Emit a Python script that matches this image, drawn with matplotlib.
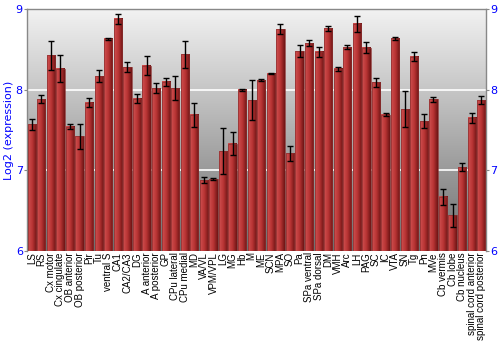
import numpy as np
import matplotlib.pyplot as plt
from matplotlib.colors import LinearSegmentedColormap

regiones = ["LS", "RS", "Cx motor", "Cx cingulate", "OB anterior", "OB posterior", "Pir", "Tu",
            "ventral S", "CA1", "CA2/CA3", "DG", "A anterior", "A posterior", "GP", "CPu lateral",
            "CPu medial", "MD", "VA/VL", "VPM/VPL", "LG", "MG", "Hb", "M", "ME", "SCN", "MPA", "SO",
            "Pa", "SPa ventral", "SPa dorsal", "DM", "VMH", "Arc", "LH", "PAG", "SC", "IC", "VTA",
            "SN", "Tg", "Pn", "MVe", "Cb vermis", "Cb lobe", "Cb nucleus", "spinal cord anterior",
            "spinal cord posterior"]
valores = [7.57, 7.88, 8.43, 8.26, 7.54, 7.42, 7.84, 8.17,
           8.63, 8.88, 8.28, 7.89, 8.30, 8.02, 8.10, 8.02,
           8.44, 7.69, 6.88, 6.89, 7.24, 7.33, 8.00, 7.87, 8.12, 8.20, 8.75, 7.21,
           8.48, 8.58, 8.47, 8.76, 8.26, 8.53, 8.82, 8.52, 8.09, 7.69, 8.64,
           7.76, 8.41, 7.61, 7.88, 6.67, 6.44, 7.04, 7.65,
           7.87]
errores = [0.07, 0.05, 0.18, 0.17, 0.03, 0.16, 0.06, 0.08,
           0.01, 0.06, 0.06, 0.06, 0.12, 0.06, 0.05, 0.15,
           0.17, 0.15, 0.035, 0.013, 0.28, 0.14, 0.01, 0.25, 0.01, 0.005, 0.06, 0.09,
           0.07, 0.035, 0.065, 0.03, 0.025, 0.025, 0.10, 0.07, 0.06, 0.015, 0.02,
           0.225, 0.055, 0.085, 0.03, 0.10, 0.145, 0.05, 0.065,
           0.05]

fig = plt.figure(figsize=(5, 3.5), dpi=100)
ax = fig.add_axes([0.054, 0.283, 0.918, 0.691])

n = len(regiones)
x = np.arange(n)
ancho = 0.86

# fondo en degradado gris
fondo = LinearSegmentedColormap.from_list("fondo", ["#6e6e6e", "#f2f2f2"])
ax.imshow(np.linspace(0, 1, 256).reshape(-1, 1), cmap=fondo, aspect="auto",
          extent=[-0.5, n - 0.5, 6, 9], origin="lower", zorder=0)

for yv in [7, 8]:
    ax.axhline(yv, color="white", lw=1.2, zorder=1)

# barras con degradado rojo
rojo = LinearSegmentedColormap.from_list("rojo", ["#d05050", "#b83434", "#6e1414"])
grad = np.linspace(0, 1, 64).reshape(1, -1)
for xi, v in zip(x, valores):
    ax.imshow(grad, cmap=rojo, aspect="auto",
              extent=[xi - ancho / 2, xi + ancho / 2, 6, v], zorder=2)
    ax.add_patch(plt.Rectangle((xi - ancho / 2, 6), ancho, v - 6, fill=False,
                               edgecolor="#8a3030", lw=0.5, zorder=3))

ax.errorbar(x, valores, yerr=errores, fmt="none", ecolor="black", elinewidth=1,
            capsize=2, capthick=1, zorder=4)

ax.set_xlim(-0.5, n - 0.5)
ax.set_ylim(6, 9)
ax.set_yticks([6, 7, 8, 9])
ax.set_xticks(x)
ax.set_xticklabels(regiones, rotation=90, fontsize=7, family="Liberation Sans")
ax.tick_params(axis="x", length=0, pad=1)
ax.tick_params(axis="y", colors="#888888", labelcolor="blue", labelsize=8,
               left=True, right=True, labelright=True, length=2, pad=1)
ax.set_ylabel("Log2 (expression)", color="blue", fontsize=8, labelpad=1)

for s in ax.spines.values():
    s.set_color("#888888")
    s.set_linewidth(1)
ax.spines["bottom"].set_visible(False)

fig.savefig("out.png", dpi=100)
